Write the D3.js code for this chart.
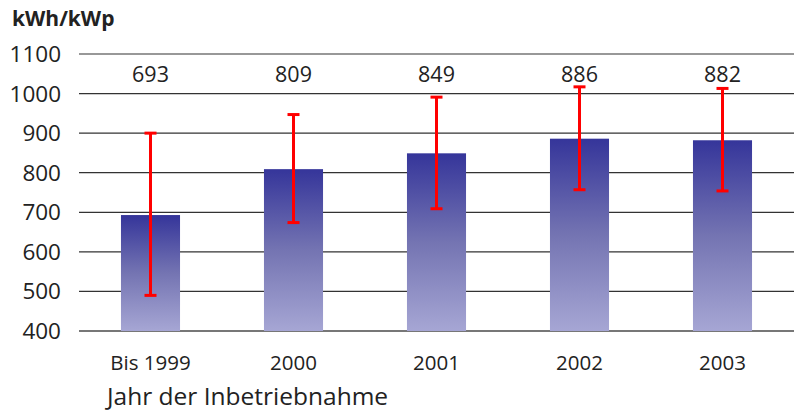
<!DOCTYPE html>
<html><head><meta charset="utf-8">
<script src="https://cdn.jsdelivr.net/npm/d3@7"></script>
<style>body{margin:0;background:#fff}svg{display:block}text{font-family:"Open Sans","Noto Sans",sans-serif;fill:#222}</style>
</head><body>
<svg id="c" width="794" height="414"></svg>
<script>
const categories = ["Bis 1999","2000","2001","2002","2003"];
const values = [693,809,849,886,882];
const errLow = [490,674,709,757,754];
const errHigh = [900,947,991,1017,1013];
const yTicks = [400,500,600,700,800,900,1000,1100];

const svg = d3.select("#c");
const x = d3.scaleBand().domain(categories).range([79,794]).paddingInner(0.587).paddingOuter(0.2935);
const y = d3.scaleLinear().domain([400,1100]).range([331,54]);

const defs = svg.append("defs");
const g = defs.append("linearGradient").attr("id","bg").attr("x1",0).attr("y1",0).attr("x2",0).attr("y2",1);
g.append("stop").attr("offset","0%").attr("stop-color","#35359a");
g.append("stop").attr("offset","50%").attr("stop-color","#7474b2");
g.append("stop").attr("offset","100%").attr("stop-color","#a6a6d4");

// gridlines
svg.append("g").selectAll("line").data(yTicks).join("line")
  .attr("x1",79).attr("x2",794).attr("y1",d=>y(d)).attr("y2",d=>y(d))
  .attr("stroke",d=>d===400?"#777":"#333").attr("stroke-width",d=>d===400?2:1.2);

// y tick labels
svg.append("g").selectAll("text").data(yTicks).join("text")
  .attr("x",61).attr("y",d=>y(d)+8).attr("text-anchor","end")
  .attr("font-size",22.5).text(d=>d);

// bars
svg.append("g").selectAll("rect").data(values).join("rect")
  .attr("x",(d,i)=>x(categories[i])).attr("width",x.bandwidth())
  .attr("y",d=>y(d)).attr("height",d=>y(400)-y(d)).attr("fill","url(#bg)");

// error bars
const eb = svg.append("g").attr("stroke","#ff0000").attr("stroke-width",3);
categories.forEach((c,i)=>{
  const cx = x(c)+x.bandwidth()/2;
  eb.append("line").attr("x1",cx).attr("x2",cx).attr("y1",y(errHigh[i])).attr("y2",y(errLow[i]));
  eb.append("line").attr("x1",cx-6).attr("x2",cx+6).attr("y1",y(errHigh[i])).attr("y2",y(errHigh[i]));
  eb.append("line").attr("x1",cx-6).attr("x2",cx+6).attr("y1",y(errLow[i])).attr("y2",y(errLow[i]));
});

// value labels
svg.append("g").selectAll("text").data(values).join("text")
  .attr("x",(d,i)=>x(categories[i])+x.bandwidth()/2).attr("y",82)
  .attr("text-anchor","middle").attr("font-size",21.5).text(d=>d);

// category labels
svg.append("g").selectAll("text").data(categories).join("text")
  .attr("x",d=>x(d)+x.bandwidth()/2).attr("y",370)
  .attr("text-anchor","middle").attr("font-size",20.5).text(d=>d);

svg.append("text").attr("x",12).attr("y",26).attr("font-size",21).attr("font-weight","bold").text("kWh/kWp");
svg.append("text").attr("x",107).attr("y",405).attr("font-size",24.5).text("Jahr der Inbetriebnahme");
</script>
</body></html>
